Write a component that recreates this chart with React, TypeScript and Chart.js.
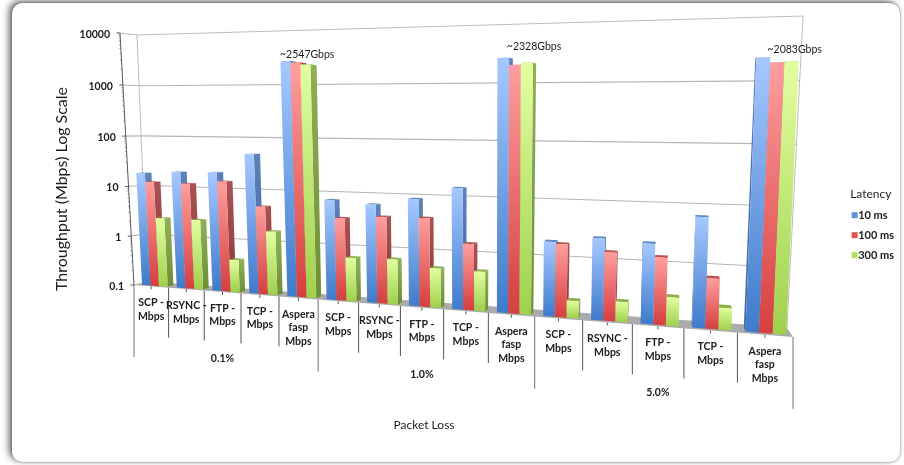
import React, { useEffect, useRef } from "react";
import { Chart, registerables } from "chart.js";

Chart.register(...registerables);

const categoryLines = [
  ["SCP -", "Mbps"], ["RSYNC -", "Mbps"], ["FTP -", "Mbps"], ["TCP -", "Mbps"], ["Aspera", "fasp", "Mbps"],
  ["SCP -", "Mbps"], ["RSYNC -", "Mbps"], ["FTP -", "Mbps"], ["TCP -", "Mbps"], ["Aspera", "fasp", "Mbps"],
  ["SCP -", "Mbps"], ["RSYNC -", "Mbps"], ["FTP -", "Mbps"], ["TCP -", "Mbps"], ["Aspera", "fasp", "Mbps"],
];
const lossGroups = ["0.1%", "1.0%", "5.0%"];
const latency10 = [18.5, 20.3, 21, 49, 2547, 7.5, 6.6, 8.9, 14.8, 2500, 2, 2.5, 2.25, 6.7, 2150];
const latency100 = [12.5, 12.3, 14.3, 5, 2400, 3.5, 4, 4.1, 1.55, 1900, 1.85, 1.48, 1.35, 0.68, 1800];
const latency300 = [2.4, 2.4, 0.43, 1.7, 2200, 0.65, 0.68, 0.52, 0.51, 2050, 0.2, 0.22, 0.3, 0.23, 1850];
const seriesNames = ["10 ms", "100 ms", "300 ms"];
const yTicks = [10000, 1000, 100, 10, 1, 0.1];
const yTickLabels = ["10000", "1000", "100", "10", "1", "0.1"];
const barNotes = [
  { index: 4, text: "~2547Gbps", dx: 28, dy: -7 },
  { index: 9, text: "~2328Gbps", dx: 38, dy: -11 },
  { index: 14, text: "~2083Gbps", dx: 40, dy: -8 },
];

type Pt = [number, number];
const FRONT: Pt[] = [[120, 33], [808, 11], [793, 337], [134, 285]];
const BACK: Pt[] = [[137, 35], [803, 16], [787, 328], [147, 282]];
const Z_FRONT = 0.2;
const Z_BACK = 0.65;

const FACES = [
  { top: "#A6C8FF", bottom: "#3F7BCB", sideTop: "#5C82B8", sideBottom: "#3E689F", cap: "#5C86C2", solid: "#5A96DE" },
  { top: "#FF9E9E", bottom: "#D63F3F", sideTop: "#A85252", sideBottom: "#8A3A3A", cap: "#B85050", solid: "#E25555" },
  { top: "#E2FFA0", bottom: "#A0D04E", sideTop: "#8FAF58", sideBottom: "#6E8E36", cap: "#90B050", solid: "#B4DE62" },
];

function homography(q: Pt[]) {
  const [[x0, y0], [x1, y1], [x2, y2], [x3, y3]] = q;
  const dx1 = x1 - x2, dx2 = x3 - x2, sx = x0 - x1 + x2 - x3;
  const dy1 = y1 - y2, dy2 = y3 - y2, sy = y0 - y1 + y2 - y3;
  const den = dx1 * dy2 - dx2 * dy1;
  const g = (sx * dy2 - dx2 * sy) / den;
  const h = (dx1 * sy - sx * dy1) / den;
  const a = x1 - x0 + g * x1, b = x3 - x0 + h * x3, c = x0;
  const d = y1 - y0 + g * y1, e = y3 - y0 + h * y3, f = y0;
  return (u: number, v: number): Pt => {
    const w = g * u + h * v + 1;
    return [(a * u + b * v + c) / w, (d * u + e * v + f) / w];
  };
}
const mapFront = homography(FRONT);
const mapBack = homography(BACK);

function poly(ctx: CanvasRenderingContext2D, pts: Pt[], fill: any) {
  ctx.beginPath();
  pts.forEach((p, i) => (i ? ctx.lineTo(p[0], p[1]) : ctx.moveTo(p[0], p[1])));
  ctx.closePath();
  ctx.fillStyle = fill;
  ctx.fill();
}
function seg(ctx: CanvasRenderingContext2D, a: Pt, b: Pt, color: string, width = 1) {
  ctx.beginPath();
  ctx.moveTo(a[0], a[1]);
  ctx.lineTo(b[0], b[1]);
  ctx.strokeStyle = color;
  ctx.lineWidth = width;
  ctx.stroke();
}

const perspectivePlugin = {
  id: "perspective",
  beforeDatasetDraw() {
    return false;
  },
  afterDraw(chart: any) {
    const ctx: CanvasRenderingContext2D = chart.ctx;
    (chart.legend?.legendHitBoxes || []).forEach((box: any, i: number) => {
      ctx.fillStyle = FACES[i].solid;
      ctx.fillRect(box.left + 5, box.top + (box.height - 6) / 2, 6, 6);
    });
  },
  beforeDatasetsDraw(chart: any) {
    const ctx: CanvasRenderingContext2D = chart.ctx;
    const area = chart.chartArea;
    const ys = chart.scales.y;
    const U = (x: number) => (x - area.left) / (area.right - area.left);
    const V = (y: number) => (y - area.top) / (area.bottom - area.top);
    const P = (x: number, y: number, z: number): Pt => {
      const f = mapFront(U(x), V(y));
      const b = mapBack(U(x), V(y));
      return [f[0] + (b[0] - f[0]) * z, f[1] + (b[1] - f[1]) * z];
    };
    const catW = (area.right - area.left) / categoryLines.length;
    const baseY = ys.getPixelForValue(0.1);

    ctx.save();
    // walls
    const wall = "#BDBDBD";
    seg(ctx, P(area.left, area.top, 0), P(area.left, area.top, 1), wall);
    seg(ctx, P(area.left, area.top, 1), P(area.right, area.top, 1), wall);
    seg(ctx, P(area.left, area.top, 1), P(area.left, area.bottom, 1), wall);
    seg(ctx, P(area.right, area.top, 1), P(area.right, area.bottom, 1), wall);
    yTicks.forEach((v) => {
      const y = ys.getPixelForValue(v);
      if (v !== 10000) {
        seg(ctx, P(area.left, y, 0), P(area.left, y, 1), "#B4B4B4", 1.1);
        seg(ctx, P(area.left, y, 1), P(area.right, y, 1), "#B4B4B4", 1.1);
      }
    });
    // floor
    poly(ctx, [P(area.left, baseY, 0), P(area.right, baseY, 0), P(area.right, baseY, 1), P(area.left, baseY, 1)], "#ABABAB");

    // value axis
    seg(ctx, P(area.left, area.top, 0), P(area.left, area.bottom, 0), "#555555", 1);
    for (let d = 0; d < yTicks.length; d++) {
      const major = yTicks[d];
      const y = ys.getPixelForValue(major);
      const a = P(area.left, y, 0);
      seg(ctx, [a[0] - 3.5, a[1]], a, "#555555");
      if (major > 0.1) {
        for (let m = 2; m < 10; m++) {
          const b = P(area.left, ys.getPixelForValue((major / 10) * m), 0);
          seg(ctx, [b[0] - 1.5, b[1]], b, "#777777", 0.8);
        }
      }
    }
    ctx.fillStyle = "#1C1C1C";
    ctx.font = "bold 10.5px Lato";
    ctx.textAlign = "right";
    ctx.textBaseline = "middle";
    yTicks.forEach((v, i) => {
      const a = P(area.left, ys.getPixelForValue(v), 0);
      ctx.fillText(yTickLabels[i], a[0] - 10, a[1] + 1.5);
    });

    // category dividers and labels
    for (let i = 0; i <= categoryLines.length; i++) {
      const a = P(area.left + i * catW, baseY, 0);
      const long = i % 5 === 0;
      seg(ctx, a, [a[0], a[1] + (long ? 72 : 50)], long ? "#6E6E6E" : "#555555", 1);
    }
    ctx.textAlign = "center";
    categoryLines.forEach((lines, i) => {
      const a = P(area.left + (i + 0.5) * catW, baseY, 0);
      seg(ctx, a, [a[0], a[1] + 3], "#555555");
      ctx.fillStyle = "#1C1C1C";
      ctx.font = "bold 10.5px Lato";
      lines.forEach((t, k) => ctx.fillText(t, a[0], a[1] + 16.5 + k * 13.6));
    });
    lossGroups.forEach((g, i) => {
      const a = P(area.left + (i * 5 + 2.5) * catW, baseY, 0);
      ctx.fillText(g, a[0], a[1] + 66.5);
    });

    // bars, read from the chart's own elements
    const metas = [0, 1, 2].map((i) => chart.getDatasetMeta(i).data);
    categoryLines.forEach((_, c) => {
      const probe = metas[0][c];
      const a = P(probe.x, baseY, Z_FRONT), b = P(probe.x, baseY, Z_BACK);
      const rightFace = b[0] > a[0] + 0.4;
      const order = rightFace ? [0, 1, 2] : [2, 1, 0];
      order.forEach((s) => {
        const el = metas[s][c];
        const shift = catW * 0.03;
        const xL = el.x - el.width / 2 + shift;
        const xR = el.x + el.width / 2 + shift;
        const col = FACES[s];
        const xSide = rightFace ? xR : xL;
        const sideA = P(xSide, el.y, Z_FRONT), sideB = P(xSide, el.base, Z_FRONT);
        const sg = ctx.createLinearGradient(sideA[0], sideA[1], sideB[0], sideB[1]);
        sg.addColorStop(0, col.sideTop);
        sg.addColorStop(1, col.sideBottom);
        poly(ctx, [P(xSide, el.y, Z_FRONT), P(xSide, el.y, Z_BACK), P(xSide, el.base, Z_BACK), P(xSide, el.base, Z_FRONT)], sg);
        poly(ctx, [P(xL, el.y, Z_FRONT), P(xR, el.y, Z_FRONT), P(xR, el.y, Z_BACK), P(xL, el.y, Z_BACK)], col.cap);
        const tl = P(xL, el.y, Z_FRONT), bl = P(xL, el.base, Z_FRONT);
        const fg = ctx.createLinearGradient(tl[0], tl[1], bl[0], bl[1]);
        fg.addColorStop(0, col.top);
        fg.addColorStop(1, col.bottom);
        poly(ctx, [tl, P(xR, el.y, Z_FRONT), P(xR, el.base, Z_FRONT), bl], fg);
      });
    });

    // notes above the Aspera bars
    ctx.fillStyle = "#1C1C1C";
    ctx.font = "10.5px Lato";
    ctx.textAlign = "center";
    barNotes.forEach((n) => {
      const el = metas[0][n.index];
      const a = P(el.x - el.width / 2, el.y, Z_FRONT);
      ctx.fillText(n.text, a[0] + n.dx, a[1] + n.dy);
    });

    // axis titles
    ctx.font = "12px Lato";
    ctx.fillText("Packet Loss", 424, 425);
    ctx.save();
    ctx.translate(62, 189);
    ctx.rotate(-Math.PI / 2);
    ctx.font = "16px Lato";
    ctx.fillText("Throughput (Mbps) Log Scale", 0, 0);
    ctx.restore();
    ctx.restore();
  },
};

export default function App() {
  const ref = useRef<HTMLCanvasElement>(null);
  useEffect(() => {
    const chart = new Chart(ref.current as HTMLCanvasElement, {
      type: "bar",
      data: {
        labels: categoryLines.map((l) => l.join(" ")),
        datasets: [latency10, latency100, latency300].map((values, i) => ({
          label: seriesNames[i],
          data: values,
          backgroundColor: FACES[i].solid,
          categoryPercentage: 0.74,
          barPercentage: 1,
        })),
      },
      options: {
        responsive: false,
        animation: false,
        devicePixelRatio: 1,
        layout: { padding: { left: 134, right: 0, top: 35, bottom: 42 } },
        scales: {
          x: { grid: { display: false }, border: { display: false }, ticks: { display: false } },
          y: {
            type: "logarithmic",
            min: 0.1,
            max: 10000,
            grid: { display: false },
            border: { display: false },
            ticks: { display: false },
          },
        },
        plugins: {
          tooltip: { enabled: false },
          legend: {
            position: "right",
            title: { display: true, text: "Latency", color: "#1C1C1C", font: { family: "Lato", size: 12 }, padding: { top: 0, bottom: -2 } },
            labels: {
              boxWidth: 6,
              boxHeight: 6,
              padding: 9,
              color: "#1C1C1C",
              font: { family: "Lato", size: 11, weight: "bold" },
              generateLabels: (c: any) =>
                Chart.defaults.plugins.legend.labels
                  .generateLabels(c)
                  .map((l: any) => ({ ...l, fillStyle: "rgba(0,0,0,0)", strokeStyle: "rgba(0,0,0,0)", lineWidth: 0 })),
            },
          },
        },
      },
      plugins: [perspectivePlugin],
    } as any);
    return () => chart.destroy();
  }, []);
  return (
    <div style={{ position: "fixed", left: 0, top: 0, width: 904, height: 465, background: "#FFFFFF", overflow: "hidden" }}>
      <div
        style={{
          position: "absolute",
          left: 12,
          top: 3,
          width: 888,
          height: 459,
          borderRadius: 10,
          background: "#FFFFFF",
          boxShadow: "-3px -2px 7px rgba(0,0,0,0.6), 0 0 2px rgba(0,0,0,0.5)",
        }}
      />
      <canvas ref={ref} width={904} height={465} style={{ position: "absolute", left: 0, top: 0 }} />
    </div>
  );
}
